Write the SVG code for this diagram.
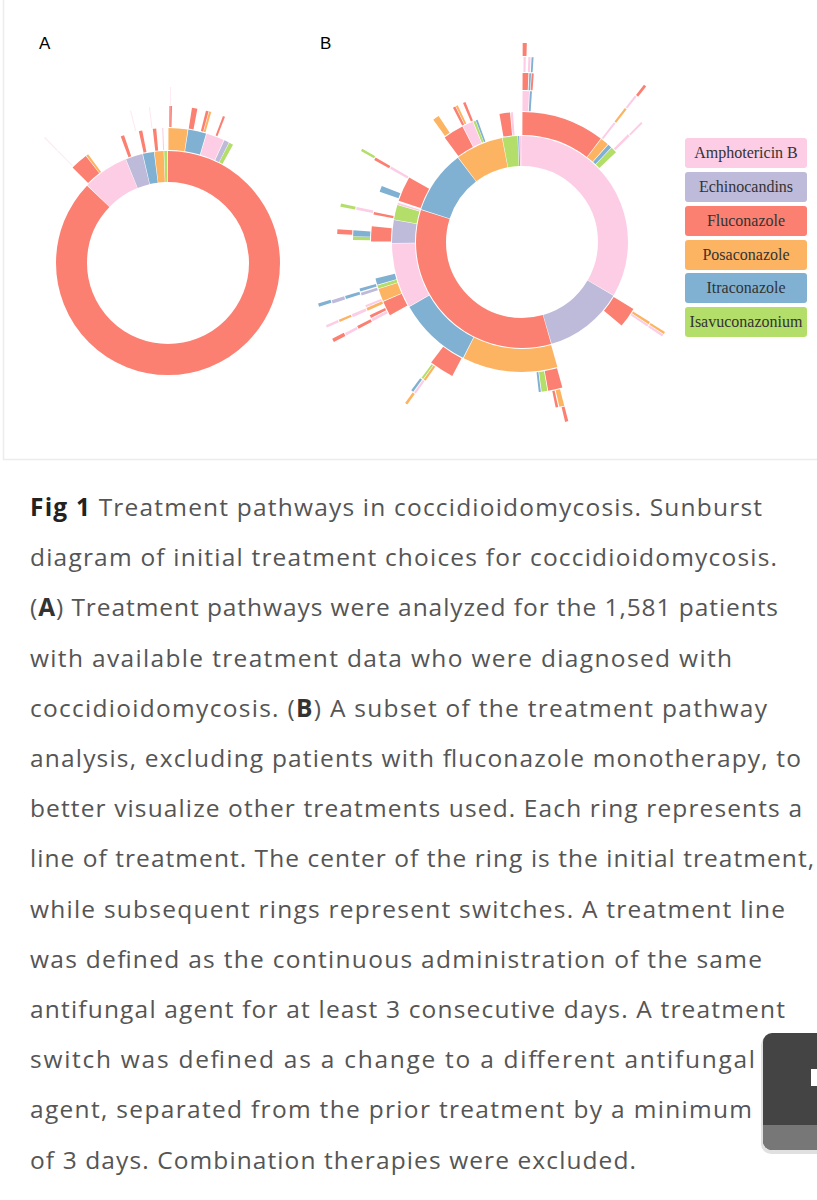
<svg xmlns="http://www.w3.org/2000/svg" width="817" height="1200" viewBox="0 0 817 1200">
<style>
circle{fill:none}
.p{stroke:#fccde5}.l{stroke:#bebada}.r{stroke:#fb8072}.o{stroke:#fdb462}.b{stroke:#80b1d3}.g{stroke:#b3de69}
.f{opacity:.45}
.a1{stroke-width:31}.a2{stroke-width:22}.a3{stroke-width:21}.a4{stroke-width:18}
.b1{stroke-width:30}.b2{stroke-width:23}.b3{stroke-width:20}.b4{stroke-width:17}.b5{stroke-width:15}.b6{stroke-width:13}.b7{stroke-width:13}
.cap{font-family:"Open Sans","Liberation Sans",sans-serif;font-size:24.5px;fill:#555}
.lg{font-family:"Liberation Serif",serif;font-size:16px;fill:#333;text-anchor:middle}
</style>
<rect width="817" height="1200" fill="#fff"/>
<path d="M3.5 0V459.5H817" stroke="#ececec" stroke-width="1.5" fill="none"/>
<text x="39" y="49" font-family="Liberation Sans,sans-serif" font-size="17">A</text>
<text x="320" y="49" font-family="Liberation Sans,sans-serif" font-size="17">B</text>

<g id="chartA" transform="translate(168,263) rotate(-90)">
<circle class="r a1" r="96.5" pathLength="360" stroke-dasharray="0 0 313.7 999"/>
<circle class="p a1" r="96.5" pathLength="360" stroke-dasharray="0 314 23.7 999"/>
<circle class="l a1" r="96.5" pathLength="360" stroke-dasharray="0 338 8.7 999"/>
<circle class="b a1" r="96.5" pathLength="360" stroke-dasharray="0 347 5.7 999"/>
<circle class="o a1" r="96.5" pathLength="360" stroke-dasharray="0 353 4.7 999"/>
<circle class="g a1" r="96.5" pathLength="360" stroke-dasharray="0 358 1.6 999"/>
<circle class="o a2" r="124" pathLength="360" stroke-dasharray="0 0.2 8.2 999"/>
<circle class="b a2" r="124" pathLength="360" stroke-dasharray="0 8.7 7.7 999"/>
<circle class="p a2" r="124" pathLength="360" stroke-dasharray="0 16.7 7.7 999"/>
<circle class="l a2" r="124" pathLength="360" stroke-dasharray="0 24.7 2.1 999"/>
<circle class="g a2" r="124" pathLength="360" stroke-dasharray="0 27 1.8 999"/>
<circle class="r a2" r="124" pathLength="360" stroke-dasharray="0 315 7.5 999"/>
<circle class="o a2" r="124" pathLength="360" stroke-dasharray="0 322.7 1 999"/>
<circle class="r a2" r="124" pathLength="360" stroke-dasharray="0 339.5 1.5 999"/>
<circle class="r a2" r="124" pathLength="360" stroke-dasharray="0 347.5 1.5 999"/>
<circle class="r a2" r="124" pathLength="360" stroke-dasharray="0 353.5 1.5 999"/>
<circle class="p a2" r="124" pathLength="360" stroke-dasharray="0 357.5 0.5 999"/>
<circle class="r a3" r="146.5" pathLength="360" stroke-dasharray="0 0.5 1 999"/>
<circle class="r a3" r="146.5" pathLength="360" stroke-dasharray="0 8.8 2 999"/>
<circle class="r a3" r="146.5" pathLength="360" stroke-dasharray="0 14 1 999"/>
<circle class="o a3" r="146.5" pathLength="360" stroke-dasharray="0 15.2 0.8 999"/>
<circle class="r a3" r="146.5" pathLength="360" stroke-dasharray="0 20.5 0.8 999"/>
<circle class="p a3 f" r="146.5" pathLength="360" stroke-dasharray="0 315.3 0.4 999"/>
<circle class="p a4 f" r="167" pathLength="360" stroke-dasharray="0 315.3 0.4 999"/>
<circle class="p a3 f" r="146.5" pathLength="360" stroke-dasharray="0 346 0.4 999"/>
<circle class="p a3 f" r="146.5" pathLength="360" stroke-dasharray="0 353 0.4 999"/>
<circle class="p a3 f" r="146.5" pathLength="360" stroke-dasharray="0 0.7 0.3 999"/>
<circle class="p a4 f" r="167" pathLength="360" stroke-dasharray="0 0.7 0.3 999"/>
</g>

<g id="chartB" transform="translate(522,242) rotate(-90)">
<circle class="p b1" r="91" pathLength="360" stroke-dasharray="0 0 120.2 999"/>
<circle class="l b1" r="91" pathLength="360" stroke-dasharray="0 120.5 43.2 999"/>
<circle class="r b1" r="91" pathLength="360" stroke-dasharray="0 164 123.7 999"/>
<circle class="b b1" r="91" pathLength="360" stroke-dasharray="0 288 34.7 999"/>
<circle class="o b1" r="91" pathLength="360" stroke-dasharray="0 323 26.1 999"/>
<circle class="g b1" r="91" pathLength="360" stroke-dasharray="0 349.4 8.1 999"/>
<circle class="b b1" r="91" pathLength="360" stroke-dasharray="0 357.8 0.7 999"/>
<circle class="p b1" r="91" pathLength="360" stroke-dasharray="0 358.8 1 999"/>

<circle class="r b2" r="118.5" pathLength="360" stroke-dasharray="0 0.2 37.1 999"/>
<circle class="o b2" r="118.5" pathLength="360" stroke-dasharray="0 37.6 3.7 999"/>
<circle class="b b2" r="118.5" pathLength="360" stroke-dasharray="0 41.6 1.7 999"/>
<circle class="g b2" r="118.5" pathLength="360" stroke-dasharray="0 43.6 2.7 999"/>
<circle class="r b2" r="118.5" pathLength="360" stroke-dasharray="0 121 9 999"/>
<circle class="o b2" r="118.5" pathLength="360" stroke-dasharray="0 164.2 42.5 999"/>
<circle class="b b2" r="118.5" pathLength="360" stroke-dasharray="0 207 33 999"/>
<circle class="p b2" r="118.5" pathLength="360" stroke-dasharray="0 240.3 29 999"/>
<circle class="l b2" r="118.5" pathLength="360" stroke-dasharray="0 269.6 10.1 999"/>
<circle class="g b2" r="118.5" pathLength="360" stroke-dasharray="0 280 6.5 999"/>
<circle class="p b2" r="118.5" pathLength="360" stroke-dasharray="0 286.8 0.8 999"/>
<circle class="r b2" r="118.5" pathLength="360" stroke-dasharray="0 288.5 11.3 999"/>
<circle class="r b2" r="118.5" pathLength="360" stroke-dasharray="0 323.5 9.2 999"/>
<circle class="p b2" r="118.5" pathLength="360" stroke-dasharray="0 333 4.7 999"/>
<circle class="g b2" r="118.5" pathLength="360" stroke-dasharray="0 338 1 999"/>
<circle class="b b2" r="118.5" pathLength="360" stroke-dasharray="0 339.2 0.8 999"/>
<circle class="r b2" r="118.5" pathLength="360" stroke-dasharray="0 350 4.7 999"/>
<circle class="p b2" r="118.5" pathLength="360" stroke-dasharray="0 355 1 999"/>

<circle class="p b3" r="141" pathLength="360" stroke-dasharray="0 0.2 2.5 999"/>
<circle class="b b3" r="141" pathLength="360" stroke-dasharray="0 3 0.8 999"/>
<circle class="p b3" r="141" pathLength="360" stroke-dasharray="0 37.5 0.8 999"/>
<circle class="p b3" r="141" pathLength="360" stroke-dasharray="0 44.5 1 999"/>
<circle class="o b3" r="141" pathLength="360" stroke-dasharray="0 122 1 999"/>
<circle class="p b3" r="141" pathLength="360" stroke-dasharray="0 123.2 0.8 999"/>
<circle class="r b3" r="141" pathLength="360" stroke-dasharray="0 164.5 5.5 999"/>
<circle class="g b3" r="141" pathLength="360" stroke-dasharray="0 170.3 2.2 999"/>
<circle class="b b3" r="141" pathLength="360" stroke-dasharray="0 172.8 0.8 999"/>
<circle class="r b3" r="141" pathLength="360" stroke-dasharray="0 207.5 9.5 999"/>
<circle class="r b3" r="141" pathLength="360" stroke-dasharray="0 241 5.7 999"/>
<circle class="o b3" r="141" pathLength="360" stroke-dasharray="0 247 4.8 999"/>
<circle class="g b3" r="141" pathLength="360" stroke-dasharray="0 252 1.2 999"/>
<circle class="b b3" r="141" pathLength="360" stroke-dasharray="0 253.5 2.5 999"/>
<circle class="r b3" r="141" pathLength="360" stroke-dasharray="0 270.2 5.8 999"/>
<circle class="r b3" r="141" pathLength="360" stroke-dasharray="0 280.5 1 999"/>
<circle class="b b3" r="141" pathLength="360" stroke-dasharray="0 289.5 2.3 999"/>
<circle class="p b3" r="141" pathLength="360" stroke-dasharray="0 299 1 999"/>
<circle class="o b3" r="141" pathLength="360" stroke-dasharray="0 324 2.5 999"/>
<circle class="r b3" r="141" pathLength="360" stroke-dasharray="0 332.8 1 999"/>
<circle class="o b3" r="141" pathLength="360" stroke-dasharray="0 334 0.8 999"/>
<circle class="r b3" r="141" pathLength="360" stroke-dasharray="0 337 1 999"/>

<circle class="r b4" r="160.5" pathLength="360" stroke-dasharray="0 0.2 2 999"/>
<circle class="b b4" r="160.5" pathLength="360" stroke-dasharray="0 2.5 0.6 999"/>
<circle class="r b4" r="160.5" pathLength="360" stroke-dasharray="0 3.3 0.7 999"/>
<circle class="o b4" r="160.5" pathLength="360" stroke-dasharray="0 37.5 0.8 999"/>
<circle class="p b4" r="160.5" pathLength="360" stroke-dasharray="0 44.8 0.7 999"/>
<circle class="o b4" r="160.5" pathLength="360" stroke-dasharray="0 122.2 0.8 999"/>
<circle class="p b4" r="160.5" pathLength="360" stroke-dasharray="0 123.2 0.8 999"/>
<circle class="o b4" r="160.5" pathLength="360" stroke-dasharray="0 165.5 1.7 999"/>
<circle class="r b4" r="160.5" pathLength="360" stroke-dasharray="0 167.6 0.9 999"/>
<circle class="o b4" r="160.5" pathLength="360" stroke-dasharray="0 214.8 0.8 999"/>
<circle class="g b4" r="160.5" pathLength="360" stroke-dasharray="0 215.8 0.7 999"/>
<circle class="p b4" r="160.5" pathLength="360" stroke-dasharray="0 242 1 999"/>
<circle class="r b4" r="160.5" pathLength="360" stroke-dasharray="0 243.3 1 999"/>
<circle class="o b4" r="160.5" pathLength="360" stroke-dasharray="0 246 1 999"/>
<circle class="p b4" r="160.5" pathLength="360" stroke-dasharray="0 247.3 0.7 999"/>
<circle class="l b4" r="160.5" pathLength="360" stroke-dasharray="0 251.5 1 999"/>
<circle class="b b4" r="160.5" pathLength="360" stroke-dasharray="0 253 1 999"/>
<circle class="g b4" r="160.5" pathLength="360" stroke-dasharray="0 270.7 1.2 999"/>
<circle class="b b4" r="160.5" pathLength="360" stroke-dasharray="0 272 2 999"/>
<circle class="p b4" r="160.5" pathLength="360" stroke-dasharray="0 281 1 999"/>
<circle class="r b4" r="160.5" pathLength="360" stroke-dasharray="0 299 1 999"/>

<circle class="p b5" r="177.5" pathLength="360" stroke-dasharray="0 0.5 0.7 999"/>
<circle class="p b5" r="177.5" pathLength="360" stroke-dasharray="0 2 0.7 999"/>
<circle class="b b5" r="177.5" pathLength="360" stroke-dasharray="0 3 0.6 999"/>
<circle class="p b5" r="177.5" pathLength="360" stroke-dasharray="0 37.6 0.7 999"/>
<circle class="r b5" r="177.5" pathLength="360" stroke-dasharray="0 165.5 1 999"/>
<circle class="p b5" r="177.5" pathLength="360" stroke-dasharray="0 215 0.7 999"/>
<circle class="b b5" r="177.5" pathLength="360" stroke-dasharray="0 216 0.8 999"/>
<circle class="r b5" r="177.5" pathLength="360" stroke-dasharray="0 242 1 999"/>
<circle class="p b5" r="177.5" pathLength="360" stroke-dasharray="0 246 1 999"/>
<circle class="b b5" r="177.5" pathLength="360" stroke-dasharray="0 252 1 999"/>
<circle class="r b5" r="177.5" pathLength="360" stroke-dasharray="0 272.5 1.5 999"/>
<circle class="g b5" r="177.5" pathLength="360" stroke-dasharray="0 281 1 999"/>
<circle class="g b5" r="177.5" pathLength="360" stroke-dasharray="0 299.5 0.8 999"/>

<circle class="r b6" r="192.5" pathLength="360" stroke-dasharray="0 0.2 1.2 999"/>
<circle class="r b6" r="192.5" pathLength="360" stroke-dasharray="0 37.8 0.8 999"/>
<circle class="o b6" r="192.5" pathLength="360" stroke-dasharray="0 215.2 0.8 999"/>
<circle class="p b6" r="192.5" pathLength="360" stroke-dasharray="0 242 0.8 999"/>
<circle class="o b6" r="192.5" pathLength="360" stroke-dasharray="0 246.3 0.7 999"/>
<circle class="l b6" r="192.5" pathLength="360" stroke-dasharray="0 252 1 999"/>
<circle class="r b7" r="206.5" pathLength="360" stroke-dasharray="0 242 1 999"/>
<circle class="p b7" r="206.5" pathLength="360" stroke-dasharray="0 246.3 0.7 999"/>
<circle class="b b7" r="206.5" pathLength="360" stroke-dasharray="0 252.3 0.9 999"/>
</g>

<g id="legend">
<rect x="685" y="138" width="122" height="30" rx="3" fill="#fccde5"/>
<rect x="685" y="172" width="122" height="30" rx="3" fill="#bebada"/>
<rect x="685" y="206" width="122" height="30" rx="3" fill="#fb8072"/>
<rect x="685" y="240" width="122" height="30" rx="3" fill="#fdb462"/>
<rect x="685" y="273" width="122" height="30" rx="3" fill="#80b1d3"/>
<rect x="685" y="307" width="122" height="30" rx="3" fill="#b3de69"/>
<text class="lg" x="746" y="158">Amphotericin B</text>
<text class="lg" x="746" y="192">Echinocandins</text>
<text class="lg" x="746" y="226">Fluconazole</text>
<text class="lg" x="746" y="260">Posaconazole</text>
<text class="lg" x="746" y="293">Itraconazole</text>
<text class="lg" x="746" y="327">Isavuconazonium</text>
</g>

<g id="caption" class="cap">
<text x="30" y="516" textLength="732"><tspan font-weight="bold" fill="#222">Fig 1</tspan> Treatment pathways in coccidioidomycosis. Sunburst</text>
<text x="30" y="566" textLength="747">diagram of initial treatment choices for coccidioidomycosis.</text>
<text x="30" y="616" textLength="748">(<tspan font-weight="bold" fill="#333">A</tspan>) Treatment pathways were analyzed for the 1,581 patients</text>
<text x="30" y="667" textLength="702">with available treatment data who were diagnosed with</text>
<text x="30" y="717" textLength="737">coccidioidomycosis. (<tspan font-weight="bold" fill="#333">B</tspan>) A subset of the treatment pathway</text>
<text x="30" y="767" textLength="771">analysis, excluding patients with fluconazole monotherapy, to</text>
<text x="30" y="817" textLength="772">better visualize other treatments used. Each ring represents a</text>
<text x="30" y="867" textLength="784">line of treatment. The center of the ring is the initial treatment,</text>
<text x="30" y="918" textLength="755">while subsequent rings represent switches. A treatment line</text>
<text x="30" y="968" textLength="732">was defined as the continuous administration of the same</text>
<text x="30" y="1018" textLength="755">antifungal agent for at least 3 consecutive days. A treatment</text>
<text x="30" y="1068" textLength="725">switch was defined as a change to a different antifungal</text>
<text x="30" y="1118" textLength="722">agent, separated from the prior treatment by a minimum</text>
<text x="30" y="1169" textLength="606">of 3 days. Combination therapies were excluded.</text>
</g>

<g id="widget">
<rect x="761" y="1035" width="70" height="119" rx="10" fill="#000" opacity="0.12"/>
<rect x="763" y="1033" width="70" height="117" rx="9" fill="#444"/>
<path d="M763 1125H833V1141a9 9 0 0 1-9 9H772a9 9 0 0 1-9-9Z" fill="#777"/>
<rect x="811" y="1069" width="6" height="17" fill="#fff"/>
</g>
</svg>
